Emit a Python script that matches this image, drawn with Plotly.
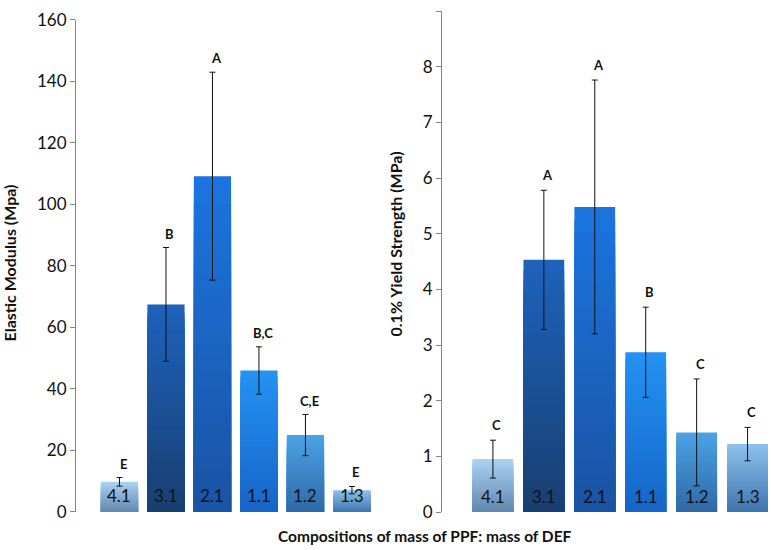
import plotly.graph_objects as go

categories = ["4.1", "3.1", "2.1", "1.1", "1.2", "1.3"]

modulus = [9.8, 67.5, 109.2, 46.0, 25.0, 7.1]
modulus_err = [1.4, 18.5, 33.8, 7.7, 6.7, 1.2]
modulus_letters = ["E", "B", "A", "B,C", "C,E", "E"]

yield_strength = [0.95, 4.53, 5.48, 2.87, 1.43, 1.22]
yield_err = [0.34, 1.25, 2.28, 0.81, 0.96, 0.30]
yield_letters = ["C", "A", "A", "B", "C", "C"]

# gradient styling (top colour, bottom colour) per bar
top_cols = ["#a9d1f2", "#1e62bb", "#1b74de", "#2392f2", "#4ba1e5", "#8cc1ec"]
bot_cols = ["#6288b0", "#183f72", "#1a54a6", "#1666c8", "#2f6aa8", "#3f76b0"]

FONT = "Lato, 'Open Sans', sans-serif"


def hex2rgb(h):
    h = h.lstrip("#")
    return tuple(int(h[i:i + 2], 16) for i in (0, 2, 4))


def mix(c1, c2, t):
    a, b = hex2rgb(c1), hex2rgb(c2)
    return "rgb(%d,%d,%d)" % tuple(round(a[i] + (b[i] - a[i]) * t) for i in range(3))


fig = go.Figure()
N = 24
idx = list(range(len(categories)))


def add_panel(values, errs, xa, ya):
    for k in range(N):
        frac = 1 - k / N
        t = k / (N - 1)
        fig.add_trace(go.Bar(
            x=categories, y=[v * frac for v in values],
            marker=dict(color=[mix(top_cols[i], bot_cols[i], t) for i in idx],
                        line=dict(width=0)),
            xaxis=xa, yaxis=ya, showlegend=False, hoverinfo="skip"))
    fig.add_trace(go.Bar(
        x=categories, y=values,
        marker=dict(color="rgba(0,0,0,0)", line=dict(width=0)),
        error_y=dict(type="data", array=errs, visible=True, color="#111111",
                     thickness=1, width=3),
        xaxis=xa, yaxis=ya, showlegend=False))


add_panel(modulus, modulus_err, "x", "y")
add_panel(yield_strength, yield_err, "x2", "y2")

annotations = []
for i, c in enumerate(categories):
    for xr, yr in (("x", "y"), ("x2", "y2")):
        annotations.append(dict(x=i, y=0, xref=xr, yref=yr, text=c, showarrow=False,
                                yanchor="middle", yshift=16,
                                font=dict(family=FONT, size=17, color="#111")))
    annotations.append(dict(x=i, y=modulus[i] + modulus_err[i], xref="x", yref="y",
                            text="<b>%s</b>" % modulus_letters[i], showarrow=False,
                            yanchor="bottom", yshift=4, xshift=4,
                            font=dict(family=FONT, size=13, color="#111")))
    annotations.append(dict(x=i, y=yield_strength[i] + yield_err[i], xref="x2", yref="y2",
                            text="<b>%s</b>" % yield_letters[i], showarrow=False,
                            yanchor="bottom", yshift=5, xshift=4,
                            font=dict(family=FONT, size=13, color="#111")))

annotations += [
    dict(x=-0.095, y=0.498, xref="paper", yref="paper", text="<b>Elastic Modulus (Mpa)</b>",
         xanchor="center", yanchor="middle",
         textangle=-90, showarrow=False, font=dict(family=FONT, size=16, color="#111")),
    dict(x=0.459, y=0.534, xref="paper", yref="paper", text="<b>0.1% Yield Strength (MPa)</b>",
         xanchor="center", yanchor="middle",
         textangle=-90, showarrow=False, font=dict(family=FONT, size=16, color="#111")),
    dict(x=0.502, y=-0.0474, xref="paper", yref="paper",
         text="<b>Compositions of mass of PPF: mass of DEF</b>",
         xanchor="center", yanchor="middle",
         showarrow=False, font=dict(family=FONT, size=15.5, color="#111")),
]

yaxis_common = dict(showgrid=False, zeroline=False, showline=True, linecolor="#868686",
                    linewidth=1, ticks="outside", ticklen=5, tickcolor="#868686",
                    tickfont=dict(family=FONT, size=17, color="#111"))
xaxis_common = dict(showgrid=False, zeroline=False, showline=False, showticklabels=False,
                    ticks="", type="category")

fig.update_layout(
    width=771, height=550,
    margin=dict(l=76, r=0, t=6, b=38),
    paper_bgcolor="white", plot_bgcolor="white",
    barmode="overlay", bargap=0.2,
    showlegend=False,
    xaxis=dict(domain=[0, 0.4345], range=[-0.935, 5.56], anchor="y", **xaxis_common),
    yaxis=dict(domain=[0, 0.9822], range=[0, 160], dtick=20, anchor="x", **yaxis_common),
    xaxis2=dict(domain=[0.5266, 1], range=[-1.0, 5.46], anchor="y2", **xaxis_common),
    yaxis2=dict(domain=[0, 1], range=[0, 9], dtick=1, anchor="x2", **yaxis_common),
    annotations=annotations,
)

fig.write_html("out.html", config={"displayModeBar": False},
               post_script="document.body.style.margin='0px';document.body.style.overflow='hidden';")
